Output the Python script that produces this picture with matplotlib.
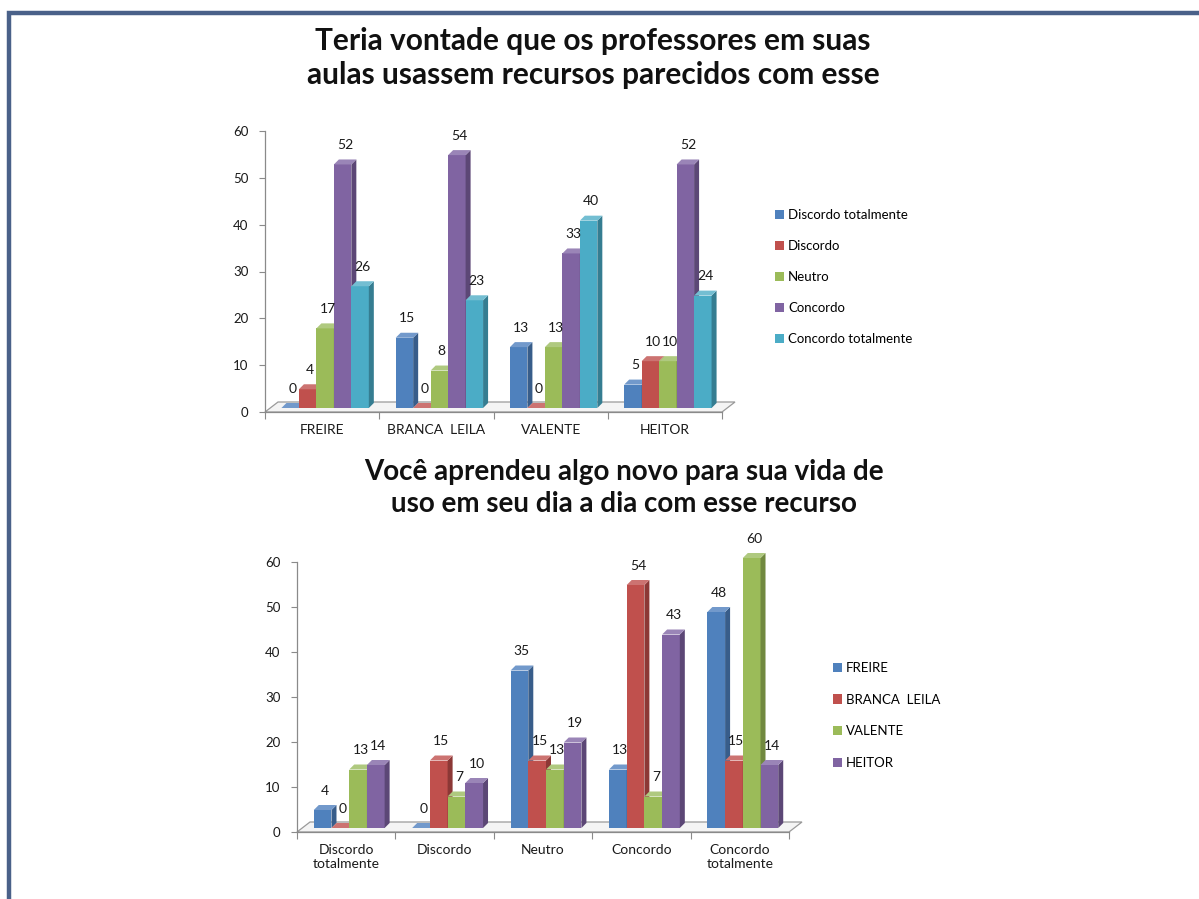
import numpy as np
import matplotlib.pyplot as plt
from matplotlib.patches import Rectangle, Polygon, Patch

plt.rcParams['font.family'] = ['Lato', 'DejaVu Sans']

W, H = 1199, 899

# top chart data
teachers = ['FREIRE', 'BRANCA  LEILA', 'VALENTE', 'HEITOR']
answers = ['Discordo totalmente', 'Discordo', 'Neutro', 'Concordo', 'Concordo totalmente']
disc_tot = [0, 15, 13, 5]
disc = [4, 0, 0, 10]
neutro = [17, 8, 13, 10]
conc = [52, 54, 33, 52]
conc_tot = [26, 23, 40, 24]

# bottom chart data
answers2 = ['Discordo\ntotalmente', 'Discordo', 'Neutro', 'Concordo', 'Concordo\ntotalmente']
freire = [4, 0, 35, 13, 48]
branca = [0, 15, 15, 54, 15]
valente = [13, 7, 13, 7, 60]
heitor = [14, 10, 19, 43, 14]

front_cols = ['#4F81BD', '#C0504D', '#9BBB59', '#8064A2', '#4BACC6']
side_cols = ['#385D8A', '#8C3836', '#71893F', '#5C4776', '#357D91']
top_cols = ['#7299CB', '#CC7371', '#AFC97F', '#9A85B7', '#73BED2']


def px(ax):
    # size of one pixel in data units
    bb = ax.get_window_extent()
    x0, x1 = ax.get_xlim()
    y0, y1 = ax.get_ylim()
    return (x1 - x0) / bb.width, (y1 - y0) / bb.height


def bars3d(ax, cats, series, bw, fs):
    n = len(series)
    ax.set_xlim(-0.5, len(cats) - 0.5)
    ax.set_ylim(0, 60)
    ux, uy = px(ax)
    # floor
    x0, x1 = -0.5, len(cats) - 0.5
    fdx, fdy = 13 * ux, 10 * uy
    ax.add_patch(Polygon([(x0, 0), (x1, 0), (x1 + fdx, fdy), (x0 + fdx, fdy)],
                         closed=True, facecolor='#f4f4f4', edgecolor='#9a9a9a',
                         lw=0.9, clip_on=False, zorder=1))
    ox, oy = 3 * ux, 4 * uy
    dx, dy = 5 * ux, 5 * uy
    z = 2
    for j in range(len(cats)):
        for i, vals in enumerate(series):
            v = vals[j]
            xl = j - n * bw / 2 + i * bw + ox
            xr = xl + bw
            y0 = oy
            yt = oy + v
            ax.add_patch(Rectangle((xl, y0), bw, v, facecolor=front_cols[i],
                                   edgecolor='none', clip_on=False, zorder=z))
            ax.add_patch(Polygon([(xr, y0), (xr, yt), (xr + dx, yt + dy), (xr + dx, y0 + dy)],
                                 closed=True, facecolor=side_cols[i], edgecolor='none',
                                 clip_on=False, zorder=z))
            ax.add_patch(Polygon([(xl, yt), (xr, yt), (xr + dx, yt + dy), (xl + dx, yt + dy)],
                                 closed=True, facecolor=top_cols[i], edgecolor='none',
                                 clip_on=False, zorder=z))
            ax.text((xl + xr + dx) / 2, yt + dy + 1.8, str(v), ha='center', va='bottom',
                    fontsize=fs, color='#1a1a1a', zorder=50, clip_on=False)
            z += 1
    for s in ['top', 'right']:
        ax.spines[s].set_visible(False)
    for s in ['left', 'bottom']:
        ax.spines[s].set_color('#8a8a8a')
        ax.spines[s].set_linewidth(0.9)
    ax.set_yticks(range(0, 61, 10))
    ax.set_xticks(np.arange(-0.5, len(cats), 1.0))
    ax.set_xticklabels([])
    ax.set_xticks(range(len(cats)), minor=True)
    ax.set_xticklabels(cats, minor=True, fontsize=10, color='#1a1a1a')
    ax.tick_params(axis='x', which='major', length=5, color='#8a8a8a', direction='out')
    ax.tick_params(axis='x', which='minor', length=0, pad=9)
    ax.tick_params(axis='y', length=4, color='#8a8a8a', labelsize=9.5, labelcolor='#1a1a1a', pad=8)
    ax.patch.set_alpha(0)


fig = plt.figure(figsize=(W / 100, H / 100), dpi=100)

# slide border
fig.patches.append(Rectangle((9 / W, -0.05), 1.2, 1 - 13 / H + 0.05, transform=fig.transFigure,
                             fill=False, edgecolor='#4A6189', lw=3.2))

# top chart
ax1 = fig.add_axes([265 / W, 1 - 412 / H, 457 / W, 281 / H])
bars3d(ax1, teachers, [disc_tot, disc, neutro, conc, conc_tot], 0.153, 10)
fig.text(593 / W, 1 - 58 / H, 'Teria vontade que os professores em suas\naulas usassem recursos parecidos com esse',
         ha='center', va='center', fontsize=21.5, fontweight='bold', linespacing=1.22, color='#111111')
h1 = [Patch(facecolor=c) for c in front_cols]
fig.legend(h1, answers, loc='upper left', bbox_to_anchor=(763 / W, 1 - 197 / H), frameon=False,
           fontsize=9.5, handlelength=0.7, handleheight=0.7, handletextpad=0.3, labelspacing=1.45)

# bottom chart
ax2 = fig.add_axes([297 / W, 1 - 832 / H, 492 / W, 270 / H])
bars3d(ax2, answers2, [freire, branca, valente, heitor], 0.18, 10)
fig.text(624 / W, 1 - 488 / H, 'Você aprendeu algo novo para sua vida de\nuso em seu dia a dia com esse recurso',
         ha='center', va='center', fontsize=20, fontweight='bold', linespacing=1.3, color='#111111')
h2 = [Patch(facecolor=c) for c in front_cols[:4]]
fig.legend(h2, teachers, loc='upper left', bbox_to_anchor=(821 / W, 1 - 650 / H), frameon=False,
           fontsize=9.5, handlelength=0.7, handleheight=0.7, handletextpad=0.3, labelspacing=1.5)

plt.savefig('out.png', dpi=100)
